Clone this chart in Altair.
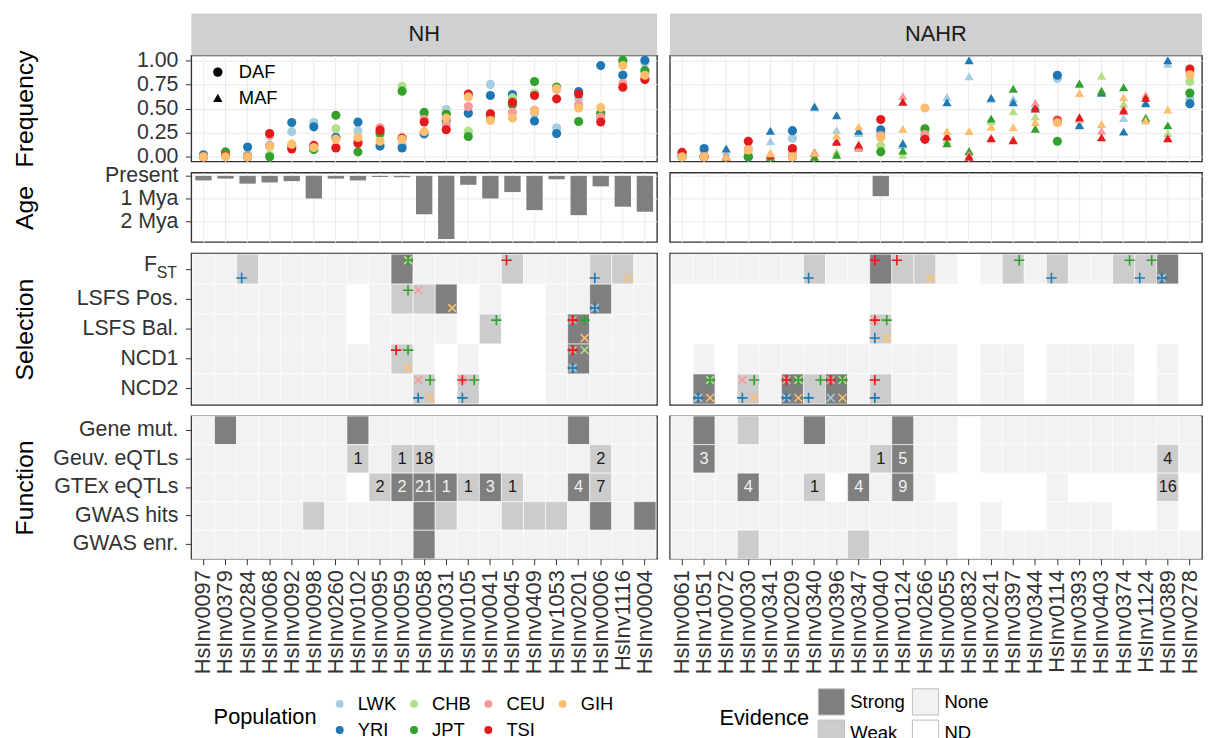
import altair as alt
import pandas as pd

FONT = "Liberation Sans"

# ---------------- data ----------------
NH_INV = ["HsInv0097", "HsInv0379", "HsInv0284", "HsInv0068", "HsInv0092", "HsInv0098",
          "HsInv0260", "HsInv0102", "HsInv0095", "HsInv0059", "HsInv0058", "HsInv0031",
          "HsInv0105", "HsInv0041", "HsInv0045", "HsInv0409", "HsInv1053", "HsInv0201",
          "HsInv0006", "HsInv1116", "HsInv0004"]
NAHR_INV = ["HsInv0061", "HsInv1051", "HsInv0072", "HsInv0030", "HsInv0341", "HsInv0209",
            "HsInv0340", "HsInv0396", "HsInv0347", "HsInv0040", "HsInv0124", "HsInv0266",
            "HsInv0055", "HsInv0832", "HsInv0241", "HsInv0397", "HsInv0344", "HsInv0114",
            "HsInv0393", "HsInv0403", "HsInv0374", "HsInv1124", "HsInv0389", "HsInv0278"]

POPS = ["LWK", "YRI", "CHB", "JPT", "CEU", "TSI", "GIH"]
POP_COLORS = ["#a6cee3", "#1f78b4", "#b2df8a", "#33a02c", "#fb9a99", "#e31a1c", "#fdbf6f"]
POP_LEGEND_ORDER = ["LWK", "CHB", "CEU", "GIH", "YRI", "JPT", "TSI"]
POP_GLYPH = ["x", "+", "x", "+", "x", "+", "x"]
POP_HPOS = ["L", "L", "R", "R", "L", "L", "R"]
POP_VPOS = ["B", "B", "T", "T", "T", "T", "B"]

# frequencies (DAF for NH; DAF or MAF for NAHR)
NH_FREQ = {
    "LWK": [.01, .02, .02, .12, .26, .355, .205, .27, .125, .12, .23, .49, .46, .75, .60, .45, .30, .61, .40, .85, .98],
    "YRI": [.02, .02, .10, .11, .355, .31, .20, .36, .11, .09, .24, .375, .45, .635, .645, .37, .24, .675, .945, .845, 1.0],
    "CHB": [0, .04, 0, .02, .11, .08, .29, .17, .22, .73, .44, .45, .265, .40, .61, .66, .725, .52, .455, .98, .87],
    "JPT": [0, .05, 0, 0, .10, .075, .43, .05, .245, .68, .46, .44, .21, .42, .54, .78, .72, .365, .45, 1.0, .895],
    "CEU": [0, .01, 0, .22, .10, .12, .10, .16, .30, .20, .385, .33, .52, .44, .46, .48, .70, .54, .41, .76, .81],
    "TSI": [0, .01, 0, .24, .08, .115, .09, .14, .275, .19, .36, .28, .65, .445, .565, .635, .60, .65, .36, .72, .80],
    "GIH": [0, 0, 0, .11, .13, .095, .18, .20, .16, .18, .26, .40, .62, .375, .40, .47, .705, .505, .51, .945, .845],
}
NH_TYPE = ["DAF"] * 21

NAHR_FREQ = {
    "LWK": [.01, .06, .05, 0, .16, .19, .51, .275, .245, .25, .12, .22, .62, .835, .60, .60, .50, .81, .34, .66, .40, .57, .965, .60],
    "YRI": [.01, .085, .085, 0, .27, .27, .52, .43, .27, .28, .14, .19, .565, 1.0, .61, .565, .52, .845, .325, .665, .26, .555, 1.0, .55],
    "CHB": [0, 0, 0, .02, 0, 0, 0, .05, .10, .11, .02, .27, .17, .06, .37, .47, .42, .36, .75, .84, .55, .41, .245, .78],
    "JPT": [0, 0, 0, 0, 0, 0, 0, .02, .11, .05, .065, .29, .14, .057, .395, .705, .29, .16, .76, .685, .72, .40, .325, .66],
    "CEU": [.04, 0, .01, .08, .04, .05, .05, .17, .09, .22, .63, .23, .22, .02, .20, .18, .56, .385, .39, .27, .50, .64, .20, .88],
    "TSI": [.045, 0, 0, .16, .02, .085, .04, .155, .125, .385, .57, .18, .21, 0, .19, .17, .50, .37, .41, .20, .48, .61, .19, .91],
    "GIH": [0, 0, 0, .07, .035, 0, .04, .22, .315, .20, .29, .505, .265, .265, .31, .305, .36, .355, .66, .34, .615, .375, .49, .85],
}
NAHR_TYPE = ["DAF", "DAF", "MAF", "DAF", "MAF", "DAF", "MAF", "MAF", "MAF", "DAF", "MAF", "DAF",
             "MAF", "MAF", "MAF", "MAF", "MAF", "DAF", "MAF", "MAF", "MAF", "MAF", "MAF", "DAF"]

# age in million years
NH_AGE = [0.20, 0.12, 0.34, 0.29, 0.23, 0.99, 0.12, 0.20, 0.05, 0.06, 1.68, 2.76,
          0.39, 0.99, 0.71, 1.50, 0.15, 1.72, 0.46, 1.35, 1.57]
NAHR_AGE = [None] * 9 + [0.89] + [None] * 14

EV_NAMES = {"S": "Strong", "W": "Weak", "N": "None", "D": "ND"}
EV_LEGEND_ORDER = ["Strong", "None", "Weak", "ND"]
EV_COLORS = ["#7f7f7f", "#f2f2f2", "#cccccc", "#ffffff"]

SEL_TESTS = ["FST", "LSFS Pos.", "LSFS Bal.", "NCD1", "NCD2"]
NH_SEL = {
    "FST":       "NNWNNNNNNSNNNNWNNNWWN",
    "LSFS Pos.": "NNNNNNNDNWWSDNDDNNSNN",
    "LSFS Bal.": "NNNNNNNDNNNNDWDDNSNNN",
    "NCD1":      "NNNNNNNNNWNDNDDDNSNNN",
    "NCD2":      "NNNNNNNNNNWDWDDDNNNNN",
}
NAHR_SEL = {
    "FST":       "NNNNNNWNNSWWNDNWNWNNWWSD",
    "LSFS Pos.": "DDDDDDDDDNDDDDDDDDDDDDDD",
    "LSFS Bal.": "DDDDDDDDDWDDDDDDDDDDDDDD",
    "NCD1":      "DNDNNNNNNNNNNDNNDNNNNDND",
    "NCD2":      "DSDWNSWSNWNNNDNNDNNNNDND",
}
NH_HITS = [
    ("HsInv0284", "FST", ["YRI"]),
    ("HsInv0059", "FST", ["JPT", "CHB"]),
    ("HsInv0045", "FST", ["TSI"]),
    ("HsInv0006", "FST", ["YRI"]),
    ("HsInv1116", "FST", ["GIH"]),
    ("HsInv0059", "LSFS Pos.", ["JPT"]),
    ("HsInv0058", "LSFS Pos.", ["CEU"]),
    ("HsInv0031", "LSFS Pos.", ["GIH"]),
    ("HsInv0006", "LSFS Pos.", ["YRI", "LWK"]),
    ("HsInv0041", "LSFS Bal.", ["JPT"]),
    ("HsInv0201", "LSFS Bal.", ["TSI", "CEU", "JPT", "GIH"]),
    ("HsInv0059", "NCD1", ["TSI", "JPT", "GIH"]),
    ("HsInv0201", "NCD1", ["TSI", "CEU", "CHB", "YRI", "LWK"]),
    ("HsInv0058", "NCD2", ["CEU", "JPT", "YRI", "GIH"]),
    ("HsInv0105", "NCD2", ["TSI", "CEU", "JPT", "YRI"]),
]
NAHR_HITS = [
    ("HsInv0340", "FST", ["YRI"]),
    ("HsInv0040", "FST", ["TSI"]),
    ("HsInv0124", "FST", ["TSI"]),
    ("HsInv0266", "FST", ["GIH"]),
    ("HsInv0397", "FST", ["JPT"]),
    ("HsInv0114", "FST", ["YRI"]),
    ("HsInv0374", "FST", ["JPT"]),
    ("HsInv1124", "FST", ["JPT", "YRI"]),
    ("HsInv0389", "FST", ["YRI", "LWK"]),
    ("HsInv0040", "LSFS Bal.", ["TSI", "CEU", "JPT", "YRI", "GIH"]),
    ("HsInv1051", "NCD2", ["JPT", "CHB", "YRI", "LWK", "GIH"]),
    ("HsInv0030", "NCD2", ["CEU", "JPT", "YRI", "GIH"]),
    ("HsInv0209", "NCD2", ["TSI", "CEU", "JPT", "CHB", "YRI", "LWK", "GIH"]),
    ("HsInv0340", "NCD2", ["JPT", "YRI"]),
    ("HsInv0396", "NCD2", ["TSI", "CEU", "JPT", "CHB", "LWK", "GIH"]),
    ("HsInv0040", "NCD2", ["TSI", "YRI"]),
]

FUN_TESTS = ["Gene mut.", "Geuv. eQTLs", "GTEx eQTLs", "GWAS hits", "GWAS enr."]
NH_FUN = {
    "Gene mut.":   "NSNNNNNSNNNNNNNNNSNNN",
    "Geuv. eQTLs": "NNNNNNNWNWWNNNNNNNWNN",
    "GTEx eQTLs":  "NNNNNNNDWSSSWSWNNSWNN",
    "GWAS hits":   "NNNNNWNNNNSWNNWWWNSNS",
    "GWAS enr.":   "NNNNNNNNNNSNNNNNNNNNN",
}
NAHR_FUN = {
    "Gene mut.":   "NSNWNNSNNNSNNDNNNNNNNNNN",
    "Geuv. eQTLs": "NSNNNNNNNWSNNDNNNNNNNNWN",
    "GTEx eQTLs":  "NNNSNNWDSNSNDDDDDNDDDDWD",
    "GWAS hits":   "NNNNNNNNNNNNNDNDDNNNDDND",
    "GWAS enr.":   "NNNWNNNNWNNNNDNNNNNNNNNN",
}
NH_COUNTS = [
    ("HsInv0102", "Geuv. eQTLs", 1), ("HsInv0059", "Geuv. eQTLs", 1),
    ("HsInv0058", "Geuv. eQTLs", 18), ("HsInv0006", "Geuv. eQTLs", 2),
    ("HsInv0095", "GTEx eQTLs", 2), ("HsInv0059", "GTEx eQTLs", 2),
    ("HsInv0058", "GTEx eQTLs", 21), ("HsInv0031", "GTEx eQTLs", 1),
    ("HsInv0105", "GTEx eQTLs", 1), ("HsInv0041", "GTEx eQTLs", 3),
    ("HsInv0045", "GTEx eQTLs", 1), ("HsInv0201", "GTEx eQTLs", 4),
    ("HsInv0006", "GTEx eQTLs", 7),
]
NAHR_COUNTS = [
    ("HsInv1051", "Geuv. eQTLs", 3), ("HsInv0040", "Geuv. eQTLs", 1),
    ("HsInv0124", "Geuv. eQTLs", 5), ("HsInv0389", "Geuv. eQTLs", 4),
    ("HsInv0030", "GTEx eQTLs", 4), ("HsInv0340", "GTEx eQTLs", 1),
    ("HsInv0347", "GTEx eQTLs", 4), ("HsInv0124", "GTEx eQTLs", 9),
    ("HsInv0389", "GTEx eQTLs", 16),
]

# ---------------- layout constants ----------------
NH_W, NAHR_W = 470, 537
FREQ_H, AGE_H, SEL_H, FUN_H = 107, 70, 153, 144
STRIP_H = 42.5
Y_EXT = 152.5
LABEL_FS = 21.5
TITLE_FS = 25
HOFF = {"L": -6, "R": 6}
VOFF = {"T": -9, "B": 9}

PLUS_PATH = "M-1,0L1,0M0,-1L0,1"
CROSS_PATH = "M-0.75,-0.75L0.75,0.75M-0.75,0.75L0.75,-0.75"
GLYPH_PATH = {"+": PLUS_PATH, "x": CROSS_PATH}

pop_color = dict(zip(POPS, POP_COLORS))
pop_scale = alt.Scale(domain=POP_LEGEND_ORDER, range=[pop_color[p] for p in POP_LEGEND_ORDER])
ev_scale = alt.Scale(domain=EV_LEGEND_ORDER, range=EV_COLORS)
shape_scale = alt.Scale(domain=["DAF", "MAF"], range=["circle", "triangle-up"])

shape_legend = alt.Legend(
    orient="none", legendX=17.5, legendY=7.5, title=None, padding=0, direction="vertical",
    symbolSize=90, symbolFillColor="black", symbolStrokeColor="black", symbolStrokeWidth=0,
    symbolOpacity=1, labelFont=FONT, labelFontSize=18.5, labelColor="black", labelOffset=12,
    rowPadding=7,
)
pop_legend = alt.Legend(
    orient="none", legendX=22.5, legendY=645, title="Population", titleOrient="left",
    titleAnchor="middle", titleBaseline="middle", titleFont=FONT, titleFontSize=22,
    titleFontWeight="normal", titleColor="black", titlePadding=14, columns=4,
    direction="horizontal", symbolType="circle", symbolSize=64, symbolStrokeWidth=0,
    symbolOpacity=1, labelFont=FONT, labelFontSize=18.5, labelColor="black", labelOffset=9,
    columnPadding=8, rowPadding=7.5, padding=0,
)
ev_legend = alt.Legend(
    orient="none", legendX=533, legendY=638, title="Evidence", titleOrient="left",
    titleAnchor="middle", titleBaseline="middle", titleFont=FONT, titleFontSize=22,
    titleFontWeight="normal", titleColor="black", titlePadding=8, columns=2,
    direction="horizontal", symbolType="square", symbolSize=702,
    symbolStrokeColor="#bfbfbf", symbolStrokeWidth=1, symbolOpacity=1,
    labelFont=FONT, labelFontSize=18.7, labelColor="black", labelOffset=5,
    columnPadding=4, rowPadding=0, padding=0,
)


def xscale(invs):
    return alt.Scale(type="band", domain=invs, paddingInner=0, paddingOuter=0.05)


def left_axis(title, **kw):
    return alt.Axis(title=title, minExtent=Y_EXT, maxExtent=Y_EXT, labelOverlap=False, **kw)


def freq_chart(invs, freq, types, width, facet, left):
    rows = []
    for p in POPS:
        for inv, v, t in zip(invs, freq[p], types):
            rows.append({"inv": inv, "pop": p, "freq": v, "type": t})
    df = pd.DataFrame(rows)
    ticks = [0, 0.25, 0.5, 0.75, 1]
    if left:
        yax = left_axis("Frequency", values=ticks, format=".2f", grid=True)
    else:
        yax = alt.Axis(values=ticks, labels=False, ticks=False, title=None, grid=True)
    x = alt.X("inv:N", scale=xscale(invs),
              axis=alt.Axis(labels=False, ticks=False, title=None, grid=True))
    pts = alt.Chart(df).mark_point(filled=True, size=85, opacity=1).encode(
        x=x,
        y=alt.Y("freq:Q", scale=alt.Scale(domain=[-0.05, 1.05], nice=False, zero=False), axis=yax),
        color=alt.Color("pop:N", scale=pop_scale, legend=pop_legend),
        shape=alt.Shape("type:N", scale=shape_scale, legend=shape_legend),
    )
    sdf = pd.DataFrame({"facet": [facet]})
    strip = alt.Chart(sdf).mark_rect(color="#d0d0d0").encode(
        x=alt.value(0), x2=alt.value(width), y=alt.value(-STRIP_H), y2=alt.value(0))
    stext = alt.Chart(sdf).mark_text(font=FONT, fontSize=22, color="#1a1a1a").encode(
        x=alt.value(width / 2), y=alt.value(-STRIP_H / 2), text="facet:N")
    return alt.layer(strip, stext, pts).properties(width=width, height=FREQ_H)


def age_chart(invs, ages, width, left):
    df = pd.DataFrame([{"inv": i, "age": a} for i, a in zip(invs, ages) if a is not None])
    if left:
        yax = left_axis("Age", values=[0, 1, 2], grid=True,
                        labelExpr="datum.value == 0 ? 'Present' : datum.value + ' Mya'")
    else:
        yax = alt.Axis(values=[0, 1, 2], labels=False, ticks=False, title=None, grid=True)
    return alt.Chart(df).mark_bar(color="#7f7f7f", width=alt.RelativeBandSize(0.74)).encode(
        x=alt.X("inv:N", scale=xscale(invs),
                axis=alt.Axis(labels=False, ticks=False, title=None, grid=True)),
        y=alt.Y("age:Q", scale=alt.Scale(domain=[-0.138, 2.898], reverse=True, nice=False, zero=False),
                axis=yax),
        y2=alt.datum(0),
    ).properties(width=width, height=AGE_H)


def tiles_df(invs, codes, tests):
    return pd.DataFrame([{"inv": inv, "test": t, "ev": EV_NAMES[c]}
                         for t in tests for inv, c in zip(invs, codes[t])])


def sel_chart(invs, codes, hits, width, left):
    tdf = tiles_df(invs, codes, SEL_TESTS)
    hdf = pd.DataFrame([{"inv": inv, "test": t, "pop": p}
                        for inv, t, pops in hits for p in pops])
    x = alt.X("inv:N", scale=xscale(invs), axis=None)
    ysc = alt.Scale(type="band", domain=SEL_TESTS, paddingInner=0, paddingOuter=0.03)
    if left:
        y = alt.Y("test:N", scale=ysc, axis=left_axis(
            "Selection",
            labelExpr="datum.value == 'FST' ? 'F' : datum.value",
            labelPadding={"condition": {"test": "datum.value == 'FST'", "value": 29}, "value": 7.5},
            labelOffset={"condition": {"test": "datum.value == 'FST'", "value": -4}, "value": 0},
        ))
    else:
        y = alt.Y("test:N", scale=ysc, axis=None)
    tiles = alt.Chart(tdf).mark_rect(stroke="white", strokeWidth=0.6).encode(
        x=x, y=y, fill=alt.Fill("ev:N", scale=ev_scale, legend=ev_legend))
    layers = [tiles]
    # one marker layer per population: glyph and quadrant depend on the population
    for p, glyph, h, v in zip(POPS, POP_GLYPH, POP_HPOS, POP_VPOS):
        sub = hdf[hdf["pop"] == p]
        if sub.empty:
            continue
        layers.append(alt.Chart(sub).mark_point(
            shape=GLYPH_PATH[glyph], filled=False, size=110, strokeWidth=1.6, opacity=1,
            xOffset=HOFF[h], yOffset=VOFF[v]).encode(
            x=x, y=y, stroke=alt.Stroke("pop:N", scale=pop_scale, legend=None)))
    if left:
        subdf = pd.DataFrame({"test": ["FST"], "sub": ["ST"]})
        layers.append(alt.Chart(subdf).mark_text(font=FONT, fontSize=16, align="left",
                                                 dy=3.5, color="#333333").encode(
            y=y, x=alt.value(-35), text="sub:N"))
    return alt.layer(*layers).properties(width=width, height=SEL_H)


def fun_chart(invs, codes, counts, width, left):
    tdf = tiles_df(invs, codes, FUN_TESTS)
    evmap = {(r.inv, r.test): r.ev for r in tdf.itertuples()}
    cdf = pd.DataFrame([{"inv": inv, "test": t, "n": str(n), "ev": evmap[(inv, t)]}
                        for inv, t, n in counts])
    x = alt.X("inv:N", scale=xscale(invs), axis=alt.Axis(
        title=None, labelAngle=270, labelOverlap=False, grid=False, ticks=True,
        labelFontSize=22, labelPadding=5))
    ysc = alt.Scale(type="band", domain=FUN_TESTS, paddingInner=0, paddingOuter=0)
    y = alt.Y("test:N", scale=ysc, axis=left_axis("Function") if left else None)
    tiles = alt.Chart(tdf).mark_rect(stroke="white", strokeWidth=0.6).encode(
        x=x, y=y, fill=alt.Fill("ev:N", scale=ev_scale, legend=ev_legend))
    txt = alt.Chart(cdf).mark_text(font=FONT, fontSize=16.5).encode(
        x=x, y=y, text="n:N",
        color=alt.condition("datum.ev == 'Strong'", alt.value("#f2f2f2"), alt.value("#1a1a1a")))
    return alt.layer(tiles, txt).properties(width=width, height=FUN_H)


charts = [
    freq_chart(NH_INV, NH_FREQ, NH_TYPE, NH_W, "NH", True),
    freq_chart(NAHR_INV, NAHR_FREQ, NAHR_TYPE, NAHR_W, "NAHR", False),
    age_chart(NH_INV, NH_AGE, NH_W, True),
    age_chart(NAHR_INV, NAHR_AGE, NAHR_W, False),
    sel_chart(NH_INV, NH_SEL, NH_HITS, NH_W, True),
    sel_chart(NAHR_INV, NAHR_SEL, NAHR_HITS, NAHR_W, False),
    fun_chart(NH_INV, NH_FUN, NH_COUNTS, NH_W, True),
    fun_chart(NAHR_INV, NAHR_FUN, NAHR_COUNTS, NAHR_W, False),
]

chart = alt.concat(
    *charts, columns=2, spacing={"row": 11.3, "column": 13}, bounds="flush", align="each"
).properties(
    padding={"left": 3, "top": 0.5, "right": 0, "bottom": 0}
).configure_view(
    stroke="#333333", strokeWidth=1.4
).configure_axis(
    labelFont=FONT, titleFont=FONT, labelFontSize=LABEL_FS, titleFontSize=TITLE_FS,
    titleFontWeight="normal", labelColor="#333333", titleColor="black",
    tickColor="#333333", tickSize=6, tickWidth=1, labelPadding=7.5, titlePadding=3,
    gridColor="#ebebeb", gridWidth=1, domain=False,
)

chart.save("out.html", embed_options={"renderer": "svg", "actions": False})
